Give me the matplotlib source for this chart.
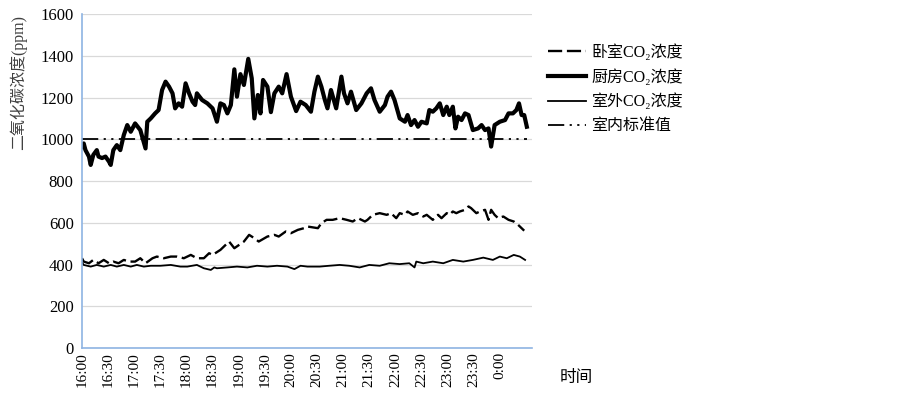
#kutuphaneler
import matplotlib
matplotlib.use("Agg")
import matplotlib.pyplot as plt

plt.rcParams['font.family'] = ['Liberation Serif', 'Noto Sans CJK SC']

# minutes after 16:00 / ppm values
kitchen_t = [0, 2, 4, 8, 10, 13, 17, 19, 23, 27, 31, 33, 36, 40, 44, 48, 52, 56, 61, 67,
             73, 75, 79, 84, 88, 92, 96, 100, 104, 107, 111, 115, 119, 123, 127, 130, 132,
             138, 144, 150, 155, 159, 163, 167, 171, 175, 178, 182, 186, 191, 195, 198, 202,
             205, 208, 213, 217, 221, 226, 230, 235, 240, 246, 251, 257, 263, 267, 271, 275,
             279, 282, 286, 292, 298, 301, 305, 309, 315, 321, 327, 332, 336, 342, 348, 351,
             355, 359, 365, 371, 374, 378, 382, 386, 390, 396, 399, 403, 407, 411, 415, 419,
             422, 426, 429, 432, 436, 440, 444, 449, 455, 459, 463, 467, 470, 474, 480, 486,
             490, 495, 499, 502, 505, 508, 511]
kitchen = [964, 980, 948, 917, 877, 925, 948, 917, 910, 917, 893, 877, 948, 972, 948, 1020,
           1068, 1036, 1076, 1044, 956, 1084, 1100, 1124, 1140, 1236, 1276, 1252, 1220, 1148,
           1172, 1156, 1268, 1220, 1180, 1164, 1220, 1188, 1172, 1148, 1084, 1172, 1164, 1124,
           1164, 1335, 1204, 1312, 1260, 1385, 1292, 1100, 1212, 1124, 1284, 1252, 1130, 1220,
           1252, 1220, 1312, 1204, 1135, 1180, 1164, 1132, 1228, 1300, 1252, 1188, 1148, 1236,
           1148, 1300, 1220, 1172, 1228, 1140, 1172, 1220, 1244, 1188, 1132, 1164, 1204, 1228,
           1188, 1100, 1084, 1116, 1068, 1092, 1060, 1084, 1076, 1140, 1132, 1148, 1172, 1116,
           1156, 1116, 1156, 1052, 1108, 1092, 1124, 1116, 1044, 1052, 1068, 1044, 1052, 965,
           1068, 1084, 1092, 1124, 1124, 1140, 1172, 1116, 1116, 1060]

bedroom_t = [0, 2, 8, 13, 19, 25, 31, 36, 42, 48, 54, 61, 67, 73, 81, 86, 94, 102, 109, 117,
             125, 132, 140, 146, 150, 159, 163, 169, 175, 186, 192, 198, 203, 213, 221, 226,
             234, 240, 248, 255, 259, 271, 275, 281, 288, 296, 304, 311, 317, 325, 328, 334,
             342, 350, 355, 361, 365, 371, 374, 380, 386, 392, 396, 403, 409, 413, 419, 422,
             426, 430, 434, 440, 444, 447, 453, 457, 463, 467, 470, 474, 478, 484, 490, 496,
             501, 505, 508]
bedroom = [430, 414, 406, 422, 406, 422, 406, 414, 406, 422, 414, 414, 430, 406, 430, 438,
           430, 438, 438, 430, 446, 430, 430, 454, 446, 470, 486, 510, 478, 510, 542, 526,
           510, 534, 542, 534, 558, 550, 566, 574, 582, 574, 598, 614, 614, 622, 614, 606,
           622, 606, 614, 638, 646, 638, 646, 622, 646, 638, 654, 638, 646, 630, 638, 614,
           638, 622, 646, 638, 654, 646, 654, 662, 678, 670, 646, 654, 662, 614, 662, 638,
           622, 630, 614, 606, 590, 574, 562]

outdoor_t = [0, 2, 10, 17, 25, 33, 40, 48, 56, 63, 71, 79, 90, 102, 113, 121, 132, 140, 148,
             152, 155, 167, 178, 190, 201, 213, 224, 236, 244, 251, 259, 273, 284, 296, 307,
             319, 330, 342, 353, 365, 376, 382, 384, 392, 403, 415, 426, 438, 449, 461, 472,
             480, 488, 496, 503, 509]
outdoor = [410, 398, 390, 398, 390, 398, 390, 398, 390, 398, 390, 394, 394, 398, 390, 390,
           398, 382, 374, 386, 382, 386, 390, 386, 394, 390, 394, 390, 378, 394, 390, 390,
           394, 398, 394, 386, 398, 394, 406, 402, 406, 386, 414, 406, 414, 406, 422, 414,
           422, 433, 422, 438, 430, 446, 438, 422]

standard = 1000
tick_min = list(range(0, 481, 30))
tick_labels = ['16:00', '16:30', '17:00', '17:30', '18:00', '18:30', '19:00', '19:30',
               '20:00', '20:30', '21:00', '21:30', '22:00', '22:30', '23:00', '23:30', '0:00']

names = ['卧室CO₂浓度', '厨房CO₂浓度', '室外CO₂浓度', '室内标准值']

#grafik
fig = plt.figure(figsize=(9.03, 3.96), dpi=100)
ax = fig.add_axes([0.0908, 0.1212, 0.4984, 0.8434])

ax.plot(bedroom_t, bedroom, color='black', lw=1.7, ls=(0, (6, 2)), label=names[0])
ax.plot(kitchen_t, kitchen, color='black', lw=3.0, label=names[1])
ax.plot(outdoor_t, outdoor, color='black', lw=1.3, label=names[2])
ax.plot([0, 511], [standard, standard], color='black', lw=1.3,
        ls=(0, (9, 3, 1.2, 3, 1.2, 3)), label=names[3])

ax.set_xlim(0, 517)
ax.set_ylim(0, 1600)
ax.set_yticks(range(0, 1601, 200))
ax.set_xticks(tick_min)
ax.set_xticklabels(tick_labels, rotation=90, fontsize=11)
ax.tick_params(axis='y', labelsize=12, length=0, pad=6)
ax.tick_params(axis='x', length=0, pad=3)
ax.grid(axis='y', color='#d9d9d9', lw=0.9)
ax.set_axisbelow(True)
for s in ['top', 'right']:
    ax.spines[s].set_visible(False)
for s in ['left', 'bottom']:
    ax.spines[s].set_color('#8eb4e3')
    ax.spines[s].set_linewidth(1.2)

fig.text(0.02, 1 - 83 / 396, '二氧化碳浓度(ppm)', rotation=90, ha='center', va='center',
         fontsize=11.5, color='#404040')
fig.text(576 / 903, 1 - 378 / 396, '时间', ha='center', va='center', fontsize=12)

fig.legend(loc='upper left', bbox_to_anchor=(0.607, 0.888), frameon=False, fontsize=11.5,
           handlelength=2.4, handletextpad=0.3, labelspacing=0.5, borderpad=0,
           borderaxespad=0)

plt.savefig('out.png', dpi=100)
